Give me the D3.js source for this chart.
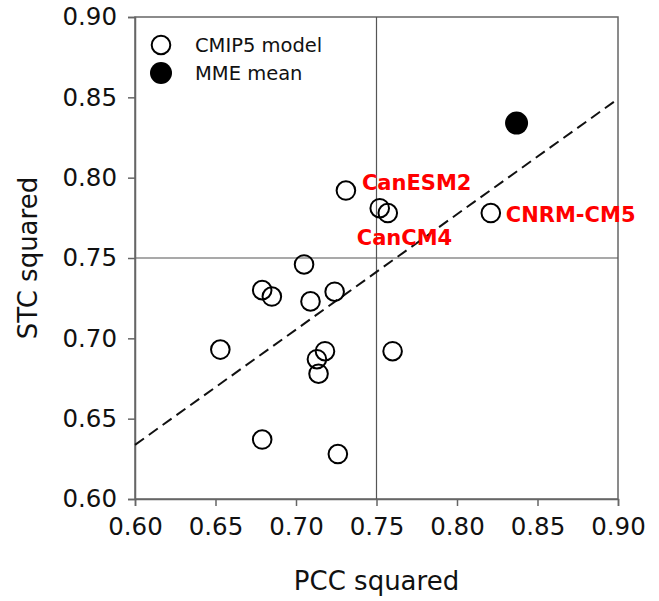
<!DOCTYPE html>
<html>
<head>
<meta charset="utf-8">
<script src="https://cdn.jsdelivr.net/npm/d3@7"></script>
<style>
  body { margin: 0; background: #fff; }
  svg text { font-family: "DejaVu Sans", Verdana, sans-serif; fill: #111; }
  .tick-label { font-size: 24.5px; }
  .axis-title { font-size: 26px; }
  .legend-label { font-size: 19.5px; }
  .model-name { font-weight: bold; font-size: 21px; fill: #ff0000; }
</style>
</head>
<body>
<div id="chart"></div>
<script>

// CMIP5 models: PCC squared (x) and STC squared (y)
var pccSquared = [0.731, 0.752, 0.757, 0.821, 0.705, 0.679, 0.685, 0.709, 0.724, 0.718, 0.713, 0.714, 0.653, 0.679, 0.760, 0.726];
var stcSquared = [0.792, 0.781, 0.778, 0.778, 0.746, 0.730, 0.726, 0.723, 0.729, 0.692, 0.687, 0.678, 0.693, 0.637, 0.692, 0.628];
var modelNames = ["CanESM2", "", "CanCM4", "CNRM-CM5", "", "", "", "", "", "", "", "", "", "", "", ""];

// multi-model ensemble mean
var mmePcc = [0.837];
var mmeStc = [0.834];

// dashed fit line, value at the two ends of the x range
var fitX = [0.60, 0.90];
var fitY = [0.6337, 0.849];

var xTicks = [0.60, 0.65, 0.70, 0.75, 0.80, 0.85, 0.90];
var yTicks = [0.60, 0.65, 0.70, 0.75, 0.80, 0.85, 0.90];
var refValue = 0.75;

var legendItems = ["CMIP5 model", "MME mean"];

var width = 659, height = 601;
var margin = {top: 17, right: 41, bottom: 102, left: 135};
var innerW = width - margin.left - margin.right,
    innerH = height - margin.top - margin.bottom;

var svg = d3.select("#chart").append("svg")
  .attr("width", width)
  .attr("height", height);

var g = svg.append("g")
  .attr("transform", `translate(${margin.left},${margin.top})`);

var x = d3.scaleLinear().domain([0.6, 0.9]).range([0, innerW]);
var y = d3.scaleLinear().domain([0.6, 0.9]).range([innerH, 0]);

// frame
g.append("rect")
  .attr("width", innerW)
  .attr("height", innerH)
  .attr("fill", "none")
  .attr("stroke", "#666")
  .attr("stroke-width", 1.5);

// reference lines at 0.75
g.append("line")
  .attr("x1", 0).attr("x2", innerW)
  .attr("y1", y(refValue)).attr("y2", y(refValue))
  .attr("stroke", "#555").attr("stroke-width", 1.2);
g.append("line")
  .attr("x1", x(refValue)).attr("x2", x(refValue))
  .attr("y1", 0).attr("y2", innerH)
  .attr("stroke", "#555").attr("stroke-width", 1.2);

// axes
var xAxis = d3.axisBottom(x).tickValues(xTicks).tickSize(7).tickPadding(12).tickFormat(d3.format(".2f"));
var yAxis = d3.axisLeft(y).tickValues(yTicks).tickSize(7).tickPadding(11).tickFormat(d3.format(".2f"));

var gx = g.append("g")
  .attr("transform", `translate(0,${innerH})`)
  .call(xAxis);
var gy = g.append("g").call(yAxis);

[gx, gy].forEach(function(a) {
  a.attr("font-size", null).attr("font-family", null);
  a.select(".domain").attr("stroke", "#666").attr("stroke-width", 1.5);
  a.selectAll(".tick line").attr("stroke", "#666").attr("stroke-width", 1.5);
  a.selectAll(".tick text")
    .attr("class", "tick-label")
    .attr("fill", "#111");
});

// dashed fit line
var line = d3.line().x(d => x(d[0])).y(d => y(d[1]));
g.append("path")
  .datum(fitX.map((v, i) => [v, fitY[i]]))
  .attr("d", line)
  .attr("fill", "none")
  .attr("stroke", "#111")
  .attr("stroke-width", 2)
  .attr("stroke-dasharray", "11,6");

// models
var models = pccSquared.map((v, i) => ({pcc: v, stc: stcSquared[i], name: modelNames[i]}));

g.selectAll(".model")
  .data(models)
  .enter().append("circle")
  .attr("class", "model")
  .attr("cx", d => x(d.pcc))
  .attr("cy", d => y(d.stc))
  .attr("r", 9.3)
  .attr("fill", "none")
  .attr("stroke", "#000")
  .attr("stroke-width", 2);

g.selectAll(".mme")
  .data(mmePcc.map((v, i) => ({pcc: v, stc: mmeStc[i]})))
  .enter().append("circle")
  .attr("class", "mme")
  .attr("cx", d => x(d.pcc))
  .attr("cy", d => y(d.stc))
  .attr("r", 11.5)
  .attr("fill", "#000");

// labels for the named models
var labelOffset = {
  "CanESM2": [16, -1],
  "CanCM4": [-31, 32],
  "CNRM-CM5": [15, 9]
};
g.selectAll(".model-name")
  .data(models.filter(d => d.name))
  .enter().append("text")
  .attr("class", "model-name")
  .attr("x", d => x(d.pcc) + labelOffset[d.name][0])
  .attr("y", d => y(d.stc) + labelOffset[d.name][1])
  .text(d => d.name);

// legend
var legend = svg.append("g").attr("transform", "translate(161,45)");
legendItems.forEach(function(name, i) {
  var row = legend.append("g").attr("transform", `translate(0,${i * 28})`);
  row.append("circle")
    .attr("r", i === 0 ? 9.3 : 11)
    .attr("fill", i === 0 ? "none" : "#000")
    .attr("stroke", i === 0 ? "#000" : "none")
    .attr("stroke-width", 2);
  row.append("text")
    .attr("class", "legend-label")
    .attr("x", 34)
    .attr("y", 7)
    .text(name);
});

// axis titles
svg.append("text")
  .attr("class", "axis-title")
  .attr("text-anchor", "middle")
  .attr("x", margin.left + innerW / 2)
  .attr("y", 590)
  .text("PCC squared");

svg.append("text")
  .attr("class", "axis-title")
  .attr("text-anchor", "middle")
  .attr("transform", `translate(37,${margin.top + innerH / 2}) rotate(-90)`)
  .text("STC squared");

</script>
</body>
</html>
